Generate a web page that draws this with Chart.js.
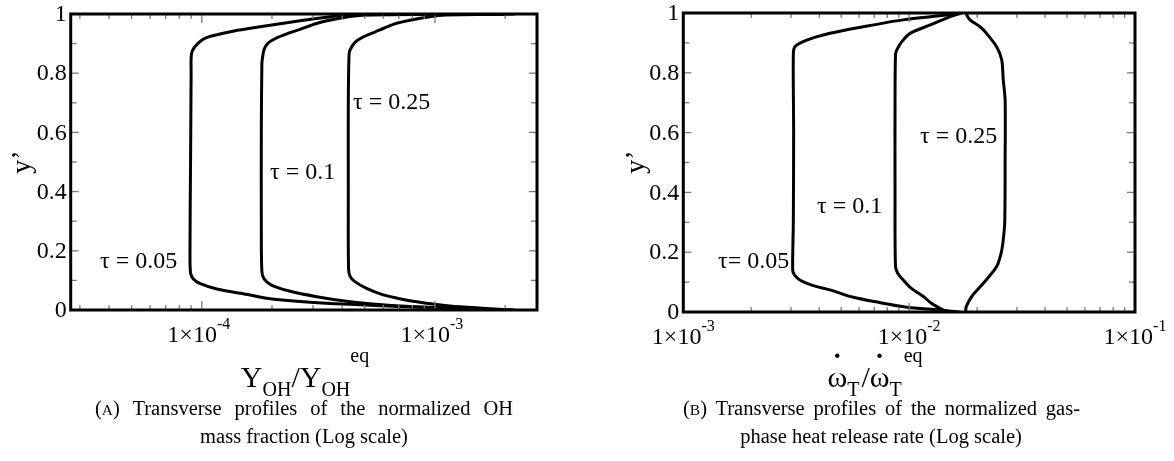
<!DOCTYPE html>
<html>
<head>
<meta charset="utf-8">
<title>Transverse profiles</title>
<script src="https://cdn.jsdelivr.net/npm/chart.js@4.4.1/dist/chart.umd.min.js"></script>
<style>
  html, body { margin: 0; padding: 0; background: #fff; }
  #wrap { position: relative; width: 1174px; height: 461px; overflow: hidden; }
  canvas { position: absolute; top: 0; }
  .cap { position: absolute; font-family: "Liberation Serif", "Times New Roman", serif;
         font-size: 20.5px; color: #000; white-space: nowrap; line-height: 28px; }
  .just { text-align: justify; text-align-last: justify; }
  .mid { width: 560px; text-align: center; }
  .sc { font-size: 15.5px; }
</style>
</head>
<body>
<div id="wrap">
  <canvas id="ohChart" width="587" height="461" style="left:0"></canvas>
  <canvas id="hrrChart" width="587" height="461" style="left:587px"></canvas>
  <div class="cap just" style="left:95px; width:418px; top:394px">(<span class="sc">A</span>) Transverse profiles of the normalized OH</div>
  <div class="cap mid" style="left:24px; top:422px">mass fraction (Log scale)</div>
  <div class="cap just" style="left:683px; width:397px; top:394px">(<span class="sc">B</span>) Transverse profiles of the normalized gas-</div>
  <div class="cap mid" style="left:601px; top:422px">phase heat release rate (Log scale)</div>
</div>
<script>
// ---- Panel A: normalized OH mass fraction, profiles across the channel (y' = 0 .. 1)
const ohTau005Y = [0, 0.002, 0.007, 0.012, 0.019, 0.029, 0.04, 0.051, 0.071, 0.09, 0.105, 0.125, 0.2, 0.5, 0.8, 0.85, 0.875, 0.9, 0.918, 0.93, 0.942, 0.96, 0.977, 0.99, 0.997, 1.0];
const ohTau005X = [2.0e-3, 1.6e-3, 1.16e-3, 7.1e-4, 4.33e-4, 2.64e-4, 1.9e-4, 1.61e-4, 1.16e-4, 9.8e-5, 9.2e-5, 8.95e-5, 8.9e-5, 8.95e-5, 9.0e-5, 9.0e-5, 9.1e-5, 9.6e-5, 1.03e-4, 1.16e-4, 1.36e-4, 1.9e-4, 2.64e-4, 3.5e-4, 4.2e-4, 2.0e-3];

const ohTau01Y = [0, 0.002, 0.006, 0.015, 0.028, 0.045, 0.065, 0.085, 0.105, 0.13, 0.3, 0.6, 0.83, 0.85, 0.88, 0.901, 0.918, 0.932, 0.948, 0.968, 0.982, 0.99, 0.997, 1.0];
const ohTau01X = [2.0e-3, 1.6e-3, 1.1e-3, 6.5e-4, 4.33e-4, 3.11e-4, 2.35e-4, 1.98e-4, 1.85e-4, 1.81e-4, 1.8e-4, 1.8e-4, 1.81e-4, 1.82e-4, 1.85e-4, 1.92e-4, 2.08e-4, 2.3e-4, 2.64e-4, 3.1e-4, 3.7e-4, 4.2e-4, 5.0e-4, 2.0e-3];

const ohTau025Y = [0, 0.006, 0.0135, 0.028, 0.04, 0.051, 0.073, 0.095, 0.113, 0.14, 0.4, 0.7, 0.86, 0.878, 0.905, 0.923, 0.946, 0.969, 0.991, 0.997, 1.0];
const ohTau025X = [2.2e-3, 1.6e-3, 1.16e-3, 8.35e-4, 6.9e-4, 6.0e-4, 5.09e-4, 4.55e-4, 4.33e-4, 4.26e-4, 4.25e-4, 4.25e-4, 4.28e-4, 4.32e-4, 4.55e-4, 4.93e-4, 5.81e-4, 6.85e-4, 9.5e-4, 1.12e-3, 2.2e-3];

// ---- Panel B: normalized gas-phase heat release rate
const hrrTau005Y = [0, 0.003, 0.007, 0.016, 0.034, 0.05, 0.063, 0.074, 0.09, 0.107, 0.125, 0.14, 0.3, 0.6, 0.86, 0.887, 0.909, 0.932, 0.954, 0.977, 0.993, 1.0];
const hrrTau005X = [1.68e-2, 1.5e-2, 1.37e-2, 9.75e-3, 7.1e-3, 5.6e-3, 4.94e-3, 4.46e-3, 3.7e-3, 3.28e-3, 3.1e-3, 3.05e-3, 3.07e-3, 3.08e-3, 3.07e-3, 3.12e-3, 3.52e-3, 4.46e-3, 6.25e-3, 9.4e-3, 1.47e-2, 1.68e-2];

const hrrTau01Y = [0, 0.005, 0.012, 0.03, 0.051, 0.08, 0.107, 0.13, 0.152, 0.4, 0.7, 0.86, 0.876, 0.905, 0.932, 0.96, 0.988, 1.0];
const hrrTau01X = [1.5e-2, 1.43e-2, 1.37e-2, 1.25e-2, 1.16e-2, 1.02e-2, 9.42e-3, 8.9e-3, 8.7e-3, 8.66e-3, 8.66e-3, 8.7e-3, 8.81e-3, 9.3e-3, 1.01e-2, 1.24e-2, 1.52e-2, 1.71e-2];

const hrrTau025Y = [0, 0.004, 0.018, 0.051, 0.096, 0.152, 0.2, 0.241, 0.3, 0.5, 0.709, 0.776, 0.843, 0.887, 0.932, 0.954, 0.977, 0.993, 1.0];
const hrrTau025X = [1.78e-2, 1.78e-2, 1.79e-2, 1.89e-2, 2.13e-2, 2.44e-2, 2.56e-2, 2.61e-2, 2.65e-2, 2.66e-2, 2.66e-2, 2.61e-2, 2.57e-2, 2.44e-2, 2.2e-2, 2.06e-2, 1.86e-2, 1.8e-2, 1.8e-2];

// ---- Axes
const yMajorTicks = [0, 0.2, 0.4, 0.6, 0.8, 1];
const yTickLabels = ['0', '0.2', '0.4', '0.6', '0.8', '1'];
const yMinorTicks = [0.1, 0.3, 0.5, 0.7, 0.9];

const ohXRange = [2.74e-5, 2.74e-3];
const ohXMajorTicks = [1e-4, 1e-3];
const ohXTickExponents = ['-4', '-3'];
const ohXMinorTicks = [3e-5, 4e-5, 5e-5, 6e-5, 7e-5, 8e-5, 9e-5, 2e-4, 3e-4, 4e-4, 5e-4, 6e-4, 7e-4, 8e-4, 9e-4, 2e-3];

const hrrXRange = [1e-3, 1e-1];
const hrrXMajorTicks = [1e-3, 1e-2, 1e-1];
const hrrXTickExponents = ['-3', '-2', '-1'];
const hrrXMinorTicks = [2e-3, 3e-3, 4e-3, 5e-3, 6e-3, 7e-3, 8e-3, 9e-3, 2e-2, 3e-2, 4e-2, 5e-2, 6e-2, 7e-2, 8e-2, 9e-2];

const tauLabels = ['\u03c4 = 0.05', '\u03c4 = 0.1', '\u03c4 = 0.25'];
const tauLabelsB = ['\u03c4= 0.05', '\u03c4 = 0.1', '\u03c4 = 0.25'];

const SERIF = '"Liberation Serif", "Times New Roman", serif';

function toPoints(xs, ys) {
  return xs.map((v, i) => ({ x: v, y: ys[i] }));
}

function profile(xs, ys) {
  return {
    data: toPoints(xs, ys),
    showLine: true,
    borderColor: '#000',
    borderWidth: 3,
    pointRadius: 0,
    tension: 0.3,
    fill: false
  };
}

// Draws the boxed frame, inward ticks, tick labels, axis titles and in-plot annotations.
const boxedAxes = {
  id: 'boxedAxes',
  afterDatasetsDraw(chart, args, o) {
    const { ctx, chartArea: a } = chart;
    const xs = chart.scales.x, ys = chart.scales.y;
    ctx.save();

    const seg = (x1, y1, x2, y2) => { ctx.beginPath(); ctx.moveTo(x1, y1); ctx.lineTo(x2, y2); ctx.stroke(); };

    // inward ticks
    ctx.strokeStyle = '#7a7a7a';
    ctx.lineWidth = 1.3;
    o.xMinor.forEach(v => { const p = xs.getPixelForValue(v); seg(p, a.bottom, p, a.bottom - 5); seg(p, a.top, p, a.top + 5); });
    o.xMajor.forEach(v => { const p = xs.getPixelForValue(v); seg(p, a.bottom, p, a.bottom - 9); seg(p, a.top, p, a.top + 9); });
    yMinorTicks.forEach(v => { const p = ys.getPixelForValue(v); seg(a.left, p, a.left + 6, p); seg(a.right, p, a.right - 6, p); });
    yMajorTicks.forEach(v => { const p = ys.getPixelForValue(v); seg(a.left, p, a.left + 8, p); seg(a.right, p, a.right - 8, p); });

    // frame
    ctx.strokeStyle = '#000';
    ctx.lineWidth = 3;
    ctx.strokeRect(a.left, a.top, a.right - a.left, a.bottom - a.top);

    ctx.fillStyle = '#000';
    // y tick labels
    ctx.font = '24px ' + SERIF;
    ctx.textAlign = 'right';
    ctx.textBaseline = 'middle';
    yMajorTicks.forEach((v, i) => ctx.fillText(yTickLabels[i], a.left - 4, ys.getPixelForValue(v) + 1));

    // x tick labels: 1x10^n
    ctx.textBaseline = 'alphabetic';
    ctx.textAlign = 'left';
    o.xMajor.forEach((v, i) => {
      const p = xs.getPixelForValue(v);
      ctx.font = '24px ' + SERIF;
      const base = '1\u00d710';
      const wb = ctx.measureText(base).width;
      ctx.font = '16px ' + SERIF;
      const ws = ctx.measureText(o.xExp[i]).width;
      const x0 = p - (wb + ws) / 2 + o.xLabelShift;
      ctx.font = '24px ' + SERIF;
      ctx.fillText(base, x0, a.bottom + 32);
      ctx.font = '16px ' + SERIF;
      ctx.fillText(o.xExp[i], x0 + wb, a.bottom + 19);
    });

    // y axis title
    ctx.save();
    ctx.translate(o.yTitleX, o.yTitleY);
    ctx.rotate(-Math.PI / 2);
    ctx.font = '28px ' + SERIF;
    ctx.textAlign = 'center';
    ctx.textBaseline = 'middle';
    ctx.fillText('y\u2019', 0, 0);
    ctx.restore();

    // x axis title
    o.drawXTitle(ctx);

    // curve annotations
    ctx.font = '24px ' + SERIF;
    ctx.textAlign = 'left';
    ctx.textBaseline = 'middle';
    o.notes.forEach(n => ctx.fillText(n.text, n.x, n.y));

    ctx.restore();
  }
};

// Text runs laid out left to right; each run: [text, size, baselineOffset, extraAdvance]
function drawRuns(ctx, runs, cx, baseline) {
  let total = 0;
  runs.forEach(r => { ctx.font = r[1] + 'px ' + SERIF; total += ctx.measureText(r[0]).width + (r[3] || 0); });
  let x = cx - total / 2;
  ctx.textAlign = 'left';
  ctx.textBaseline = 'alphabetic';
  const pos = [];
  runs.forEach(r => {
    ctx.font = r[1] + 'px ' + SERIF;
    ctx.fillText(r[0], x, baseline + r[2]);
    const w = ctx.measureText(r[0]).width;
    pos.push({ x, w });
    x += w + (r[3] || 0);
  });
  return pos;
}

function makeChart(id, datasets, xRange, extra) {
  return new Chart(document.getElementById(id), {
    type: 'scatter',
    data: { datasets },
    options: {
      responsive: false,
      animation: false,
      devicePixelRatio: 1,
      layout: { padding: extra.padding },
      plugins: { legend: { display: false }, tooltip: { enabled: false }, boxedAxes: extra.axes },
      scales: {
        x: { type: 'logarithmic', min: xRange[0], max: xRange[1], display: false },
        y: { type: 'linear', min: 0, max: 1, display: false }
      }
    },
    plugins: [boxedAxes]
  });
}

makeChart('ohChart', [
  profile(ohTau005X, ohTau005Y),
  profile(ohTau01X, ohTau01Y),
  profile(ohTau025X, ohTau025Y)
], ohXRange, {
  padding: { left: 70.7, right: 50, top: 14, bottom: 151 },
  axes: {
    xMajor: ohXMajorTicks, xMinor: ohXMinorTicks, xExp: ohXTickExponents, xLabelShift: -3,
    yTitleX: 23, yTitleY: 162,
    notes: [
      { text: tauLabels[0], x: 100, y: 262 },
      { text: tauLabels[1], x: 270, y: 173 },
      { text: tauLabels[2], x: 353, y: 103 }
    ],
    drawXTitle(ctx) {
      drawRuns(ctx, [
        ['Y', 30, 0], ['OH', 20, 9], ['/', 30, 0], ['Y', 30, 0], ['OH', 20, 9], ['eq', 20, -25]
      ], 305, 387);
    }
  }
});

makeChart('hrrChart', [
  profile(hrrTau005X, hrrTau005Y),
  profile(hrrTau01X, hrrTau01Y),
  profile(hrrTau025X, hrrTau025Y)
], hrrXRange, {
  padding: { left: 96.3, right: 39, top: 13, bottom: 149 },
  axes: {
    xMajor: hrrXMajorTicks, xMinor: hrrXMinorTicks, xExp: hrrXTickExponents, xLabelShift: 0,
    yTitleX: 50, yTitleY: 162,
    notes: [
      { text: tauLabelsB[0], x: 131, y: 262 },
      { text: tauLabelsB[1], x: 230, y: 207 },
      { text: tauLabelsB[2], x: 333, y: 137 }
    ],
    drawXTitle(ctx) {
      const pos = drawRuns(ctx, [
        ['\u03c9', 30, 0], ['T', 20, 9, 2], ['/', 30, 0], ['\u03c9', 30, 0], ['T', 20, 9, 2], ['eq', 20, -25]
      ], 288, 387);
      // dots over the omegas (rate notation)
      ctx.font = 'bold 28px ' + SERIF;
      ctx.textAlign = 'center';
      [pos[0], pos[3]].forEach(p => ctx.fillText('.', p.x + p.w / 2, 358));
    }
  }
});
</script>
</body>
</html>
